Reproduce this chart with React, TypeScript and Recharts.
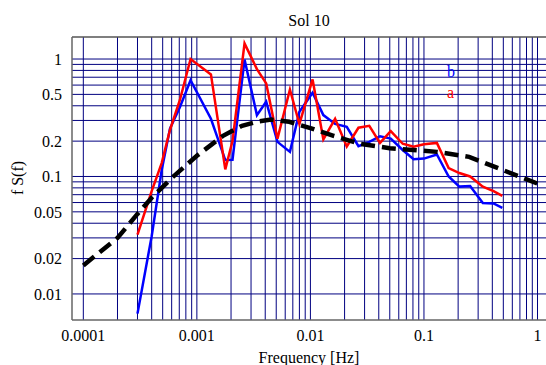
import { CartesianGrid, Legend, Line, LineChart, ReferenceLine, XAxis, YAxis } from "recharts";

const SERIF = "Liberation Serif, Tinos, Times New Roman, Times, DejaVu Serif, serif";

// frequency bins [Hz] shared by both measured spectra
const FREQ = [
  3.0e-4, 4.0e-4, 4.9e-4, 5.8e-4, 7.1e-4, 8.8e-4, 1.33e-3, 1.78e-3, 2.06e-3, 2.63e-3,
  3.38e-3, 4.08e-3, 5.13e-3, 6.6e-3, 8.0e-3, 1.045e-2, 1.3e-2, 1.65e-2, 2.09e-2, 2.65e-2,
  3.3e-2, 4.1e-2, 5.1e-2, 6.5e-2, 8.1e-2, 0.1, 0.13, 0.165, 0.205, 0.255, 0.33, 0.41, 0.49,
];
const SERIES_A = [
  0.032, 0.075, 0.13, 0.25, 0.45, 1.0, 0.74, 0.115, 0.2, 1.36,
  0.82, 0.62, 0.21, 0.55, 0.28, 0.67, 0.207, 0.31, 0.18, 0.26,
  0.27, 0.193, 0.243, 0.19, 0.179, 0.188, 0.193, 0.118, 0.107, 0.1, 0.082, 0.075, 0.0685,
];
const SERIES_B = [
  0.0068, 0.031, 0.113, 0.256, 0.39, 0.66, 0.31, 0.138, 0.139, 0.99,
  0.333, 0.433, 0.197, 0.162, 0.355, 0.516, 0.333, 0.28, 0.265, 0.181,
  0.197, 0.22, 0.21, 0.168, 0.14, 0.142, 0.154, 0.1, 0.082, 0.083, 0.0594, 0.059, 0.054,
];

// smooth model curve (dashed)
const MODEL_FREQ = [
  1e-4, 2e-4, 3e-4, 4e-4, 6e-4, 1e-3, 1.7e-3, 2.5e-3, 3.5e-3, 4.5e-3,
  6.5e-3, 1e-2, 1.6e-2, 2.7e-2, 5e-2, 8e-2, 0.13, 0.25, 0.5, 1.0,
];
const MODEL_VALUES = [
  0.0175, 0.03, 0.048, 0.066, 0.097, 0.15, 0.222, 0.27, 0.295, 0.305,
  0.292, 0.258, 0.222, 0.19, 0.174, 0.168, 0.162, 0.147, 0.113, 0.087,
];

const X_TICKS = [0.0001, 0.001, 0.01, 0.1, 1];
const Y_TICKS = [0.01, 0.02, 0.05, 0.1, 0.2, 0.5, 1];
const X_DOMAIN = [7.95e-5, 1.188];
const Y_DOMAIN = [0.006, 1.54];
const LEGEND_ORDER = ["b", "a"];

// log grid: 1..9 x each decade
const decadeLines = (from: number, to: number) => {
  const out: number[] = [];
  for (let e = from; e <= to; e++) {
    for (let m = 1; m <= 9; m++) {
      if (e === to && m > 1) break;
      out.push(m * Math.pow(10, e));
    }
  }
  return out;
};
const X_GRID = decadeLines(-4, 0);
const Y_GRID = decadeLines(-2, 0);

const dataA = FREQ.map((f, i) => ({ f, v: SERIES_A[i] }));
const dataB = FREQ.map((f, i) => ({ f, v: SERIES_B[i] }));
const dataModel = MODEL_FREQ.map((f, i) => ({ f, v: MODEL_VALUES[i] }));

function LegendContent(props: any) {
  const items = (props.payload || [])
    .filter((p: any) => LEGEND_ORDER.includes(p.value))
    .sort((x: any, y: any) => LEGEND_ORDER.indexOf(x.value) - LEGEND_ORDER.indexOf(y.value));
  return (
    <div style={{ fontFamily: SERIF, fontSize: 16, lineHeight: "21px" }}>
      {items.map((p: any) => (
        <div key={p.value} style={{ color: p.color }}>
          {p.value}
        </div>
      ))}
    </div>
  );
}

export default function App() {
  return (
    <div style={{ position: "absolute", left: 0, top: 0, width: 546, height: 365, background: "#fff", fontFamily: SERIF }}>
      <div
        style={{
          position: "absolute",
          left: 72,
          width: 474,
          top: 13,
          textAlign: "center",
          fontFamily: SERIF,
          fontSize: 16,
          lineHeight: "16px",
        }}
      >
        Sol 10
      </div>
      <LineChart width={546} height={365} margin={{ top: 37, right: 0, bottom: 0, left: 0 }}>
        <CartesianGrid horizontalValues={Y_GRID} verticalValues={X_GRID} stroke="#000080" strokeWidth={1} />
        <XAxis
          dataKey="f"
          type="number"
          scale="log"
          domain={X_DOMAIN}
          allowDataOverflow
          ticks={X_TICKS}
          interval={0}
          tickFormatter={(v: number) => String(v)}
          tick={{ fill: "#000", fontSize: 16, fontFamily: SERIF }}
          tickLine={false}
          tickSize={6}
          tickMargin={4}
          axisLine={{ stroke: "#666", strokeWidth: 1.5 }}
          height={45}
          label={{ value: "Frequency [Hz]", position: "insideBottom", offset: 2, fill: "#000", fontSize: 16, fontFamily: SERIF }}
        />
        <YAxis
          type="number"
          scale="log"
          domain={Y_DOMAIN}
          allowDataOverflow
          ticks={Y_TICKS}
          interval={0}
          tickFormatter={(v: number) => String(v)}
          tick={{ fill: "#000", fontSize: 16, fontFamily: SERIF }}
          tickLine={false}
          tickSize={6}
          tickMargin={4}
          axisLine={{ stroke: "#666", strokeWidth: 1.5 }}
          width={72}
          label={{
            content: () => (
              <text
                x={17}
                y={178}
                transform="rotate(-90 17 178)"
                textAnchor="middle"
                dominantBaseline="central"
                fontFamily={SERIF}
                fontSize={16}
                fill="#000"
              >
                f S(f)
              </text>
            ),
          }}
        />
        <ReferenceLine y={Y_DOMAIN[1]} stroke="#555" strokeWidth={1.5} />
        <Line data={dataB} dataKey="v" name="b" type="linear" stroke="#0000ff" strokeWidth={2.5} dot={false} isAnimationActive={false} />
        <Line data={dataA} dataKey="v" name="a" type="linear" stroke="#ff0000" strokeWidth={2.5} dot={false} isAnimationActive={false} />
        <Line
          data={dataModel}
          dataKey="v"
          name="model"
          legendType="none"
          type="linear"
          stroke="#000"
          strokeWidth={4.5}
          strokeDasharray="14 7"
          dot={false}
          isAnimationActive={false}
        />
        <Legend
          layout="vertical"
          align="center"
          verticalAlign="middle"
          content={LegendContent}
          wrapperStyle={{ top: 61, left: 447, width: "auto" }}
        />
      </LineChart>
    </div>
  );
}
